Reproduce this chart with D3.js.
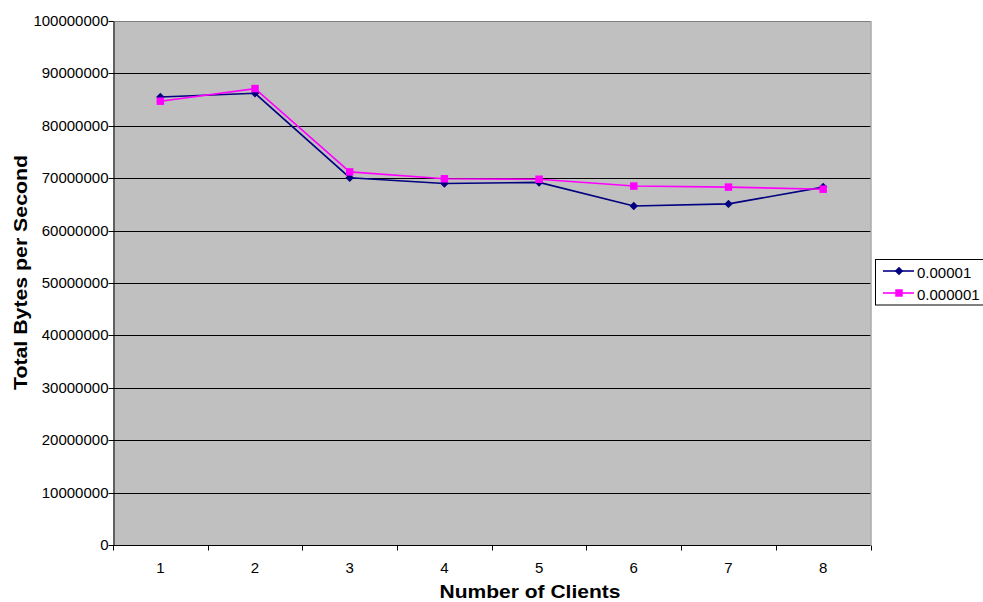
<!DOCTYPE html>
<html>
<head>
<meta charset="utf-8">
<script src="https://cdn.jsdelivr.net/npm/d3@7"></script>
<style>
  html, body { margin: 0; padding: 0; background: #fff; }
  svg { display: block; font-family: "Liberation Sans", Arial, sans-serif; }
</style>
</head>
<body>
<svg id="chart" width="983" height="602"></svg>
<script>
// Throughput per number of clients, two error-rate settings
const clients = [1, 2, 3, 4, 5, 6, 7, 8];
const seriesNames = ["0.00001", "0.000001"];
const series1 = [85500000, 86200000, 70100000, 69000000, 69200000, 64700000, 65100000, 68300000];
const series2 = [84700000, 87100000, 71200000, 69900000, 69800000, 68500000, 68300000, 67900000];
const yTicks = [0, 10000000, 20000000, 30000000, 40000000, 50000000, 60000000, 70000000, 80000000, 90000000, 100000000];

(function () {
  const svg = d3.select("#chart");
  const plotLeft = 113, plotRight = 870.5, plotTop = 21, plotBottom = 545;

  const x = d3.scaleBand().domain(clients).range([plotLeft, plotRight]);
  const y = d3.scaleLinear().domain([0, 100000000]).range([plotBottom, plotTop]);

  // plot background
  svg.append("rect")
    .attr("x", plotLeft).attr("y", plotTop)
    .attr("width", plotRight - plotLeft).attr("height", plotBottom - plotTop)
    .attr("fill", "#c0c0c0");

  // horizontal gridlines
  svg.append("g").selectAll("line")
    .data(yTicks.slice(1))
    .join("line")
    .attr("x1", plotLeft).attr("x2", plotRight)
    .attr("y1", d => Math.round(y(d)) + 0.5).attr("y2", d => Math.round(y(d)) + 0.5)
    .attr("stroke", d => d === 100000000 ? "#808080" : "#000")
    .attr("stroke-width", 1);

  // right frame edge
  svg.append("line")
    .attr("x1", plotRight + 0.5).attr("x2", plotRight + 0.5)
    .attr("y1", plotTop).attr("y2", plotBottom)
    .attr("stroke", "#808080");

  // y axis
  const yAxis = d3.axisLeft(y).tickValues(yTicks).tickFormat(d3.format("d"))
    .tickSize(5).tickSizeOuter(0).tickPadding(0);
  const gy = svg.append("g").attr("transform", `translate(${plotLeft + 0.5},0)`).call(yAxis);
  gy.selectAll("text").attr("font-size", 15).attr("fill", "#000")
    .attr("font-family", "Liberation Sans, Arial, sans-serif");
  gy.selectAll(".tick line").attr("stroke", "#000");
  gy.select(".domain").attr("stroke", "#000");
  gy.selectAll(".tick").attr("transform", d => `translate(0,${Math.round(y(d)) + 0.5})`);

  // x axis: ticks on band boundaries, labels in band centres
  const gx = svg.append("g").attr("transform", `translate(0,${plotBottom + 0.5})`);
  gx.append("line").attr("x1", plotLeft).attr("x2", plotRight).attr("stroke", "#000");
  const boundaries = clients.map(c => x(c)).concat([plotRight]);
  gx.selectAll("line.tk").data(boundaries).join("line")
    .attr("class", "tk")
    .attr("x1", d => Math.round(d) + 0.5).attr("x2", d => Math.round(d) + 0.5)
    .attr("y1", 0).attr("y2", 5).attr("stroke", "#000");
  gx.selectAll("text").data(clients).join("text")
    .attr("x", d => x(d) + x.bandwidth() / 2)
    .attr("y", 27.5)
    .attr("text-anchor", "middle")
    .attr("font-size", 15)
    .text(d => d);

  // lines and markers
  const cx = d => x(d) + x.bandwidth() / 2;
  const line = d3.line().x(d => cx(d[0])).y(d => y(d[1]));

  const data1 = clients.map((c, i) => [c, series1[i]]);
  const data2 = clients.map((c, i) => [c, series2[i]]);

  svg.append("path").datum(data1).attr("d", line)
    .attr("fill", "none").attr("stroke", "#000080").attr("stroke-width", 1.6);
  svg.append("path").datum(data2).attr("d", line)
    .attr("fill", "none").attr("stroke", "#ff00ff").attr("stroke-width", 1.6);

  // square diamond marker (equal width and height)
  const diamondType = {
    draw(ctx, size) {
      const r = Math.sqrt(size) / 2;
      ctx.moveTo(0, -r); ctx.lineTo(r, 0); ctx.lineTo(0, r); ctx.lineTo(-r, 0); ctx.closePath();
    }
  };
  const diamond = d3.symbol().type(diamondType).size(72);
  const square = d3.symbol().type(d3.symbolSquare).size(56);

  svg.append("g").selectAll("path").data(data1).join("path")
    .attr("d", diamond)
    .attr("transform", d => `translate(${cx(d[0])},${y(d[1])})`)
    .attr("fill", "#000080");
  svg.append("g").selectAll("path").data(data2).join("path")
    .attr("d", square)
    .attr("transform", d => `translate(${cx(d[0])},${y(d[1])})`)
    .attr("fill", "#ff00ff");

  // axis titles
  svg.append("text")
    .attr("x", 530).attr("y", 598)
    .attr("text-anchor", "middle")
    .attr("font-size", 19).attr("font-weight", "bold")
    .attr("textLength", 181).attr("lengthAdjust", "spacingAndGlyphs")
    .text("Number of Clients");
  svg.append("text")
    .attr("transform", "translate(27,272.5) rotate(-90)")
    .attr("text-anchor", "middle")
    .attr("font-size", 19).attr("font-weight", "bold")
    .attr("textLength", 235).attr("lengthAdjust", "spacingAndGlyphs")
    .text("Total Bytes per Second");

  // legend
  const lg = svg.append("g");
  lg.append("rect")
    .attr("x", 875.5).attr("y", 259.5)
    .attr("width", 120).attr("height", 45.5)
    .attr("fill", "#fff").attr("stroke", "#000");
  const rows = [
    { name: seriesNames[0], color: "#000080", sym: diamond, yy: 271 },
    { name: seriesNames[1], color: "#ff00ff", sym: square, yy: 293 }
  ];
  rows.forEach(r => {
    lg.append("line").attr("x1", 883).attr("x2", 914).attr("y1", r.yy).attr("y2", r.yy)
      .attr("stroke", r.color).attr("stroke-width", 1.6);
    lg.append("path").attr("d", r.sym).attr("transform", `translate(899,${r.yy})`).attr("fill", r.color);
    lg.append("text").attr("x", 917).attr("y", r.yy + 6.5).attr("font-size", 15).text(r.name);
  });
})();
</script>
</body>
</html>
